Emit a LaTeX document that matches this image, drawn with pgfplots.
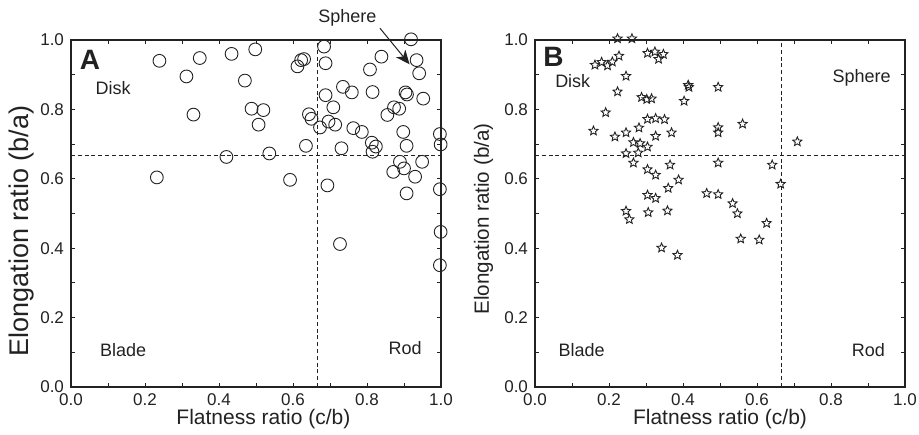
\documentclass[border=0pt]{standalone}
\usepackage{fontspec}
\setmainfont{Liberation Sans}
\usepackage{pgfplots}
\pgfplotsset{compat=1.18}
\usetikzlibrary{arrows.meta,calc}

% open five-point star
\pgfdeclareplotmark{ostar}{%
  \pgfpathmoveto{\pgfpointpolar{90}{\pgfplotmarksize}}%
  \pgfpathlineto{\pgfpointpolar{126}{0.45\pgfplotmarksize}}%
  \pgfpathlineto{\pgfpointpolar{162}{\pgfplotmarksize}}%
  \pgfpathlineto{\pgfpointpolar{198}{0.45\pgfplotmarksize}}%
  \pgfpathlineto{\pgfpointpolar{234}{\pgfplotmarksize}}%
  \pgfpathlineto{\pgfpointpolar{270}{0.45\pgfplotmarksize}}%
  \pgfpathlineto{\pgfpointpolar{306}{\pgfplotmarksize}}%
  \pgfpathlineto{\pgfpointpolar{342}{0.45\pgfplotmarksize}}%
  \pgfpathlineto{\pgfpointpolar{18}{\pgfplotmarksize}}%
  \pgfpathlineto{\pgfpointpolar{54}{0.45\pgfplotmarksize}}%
  \pgfpathclose\pgfusepathqstroke}

\definecolor{ink}{HTML}{222222}

\pgfplotstableread{
x y
0.239 0.940
0.348 0.948
0.434 0.960
0.498 0.973
0.312 0.895
0.470 0.883
0.331 0.785
0.488 0.802
0.520 0.798
0.507 0.756
0.420 0.663
0.232 0.604
0.684 0.981
0.919 1.002
0.839 0.952
0.934 0.942
0.941 0.904
0.630 0.945
0.622 0.942
0.612 0.924
0.688 0.933
0.808 0.915
0.735 0.865
0.759 0.849
0.688 0.841
0.815 0.850
0.904 0.849
0.908 0.843
0.952 0.831
0.709 0.806
0.643 0.786
0.650 0.773
0.673 0.748
0.696 0.765
0.714 0.756
0.763 0.746
0.786 0.735
0.855 0.784
0.873 0.806
0.887 0.802
0.898 0.735
0.907 0.695
0.635 0.695
0.731 0.688
0.813 0.704
0.824 0.693
0.815 0.678
0.536 0.673
0.889 0.649
0.871 0.620
0.900 0.630
0.949 0.649
0.930 0.606
0.592 0.597
0.907 0.558
0.693 0.581
0.727 0.412
0.997 0.729
0.999 0.699
0.997 0.570
0.999 0.447
0.997 0.351
}\dataA

\pgfplotstableread{
x y
0.223 1.004
0.262 1.004
0.162 0.928
0.180 0.936
0.196 0.926
0.209 0.937
0.227 0.954
0.246 0.896
0.223 0.851
0.304 0.962
0.324 0.966
0.334 0.945
0.347 0.959
0.288 0.835
0.302 0.829
0.315 0.831
0.191 0.791
0.158 0.738
0.216 0.721
0.246 0.733
0.281 0.747
0.304 0.772
0.326 0.774
0.350 0.771
0.326 0.723
0.369 0.733
0.403 0.824
0.414 0.870
0.416 0.864
0.266 0.705
0.284 0.702
0.304 0.692
0.246 0.673
0.279 0.675
0.266 0.646
0.304 0.627
0.326 0.611
0.365 0.640
0.388 0.597
0.360 0.573
0.304 0.553
0.326 0.544
0.464 0.558
0.495 0.864
0.495 0.748
0.495 0.733
0.561 0.758
0.709 0.707
0.495 0.646
0.641 0.640
0.664 0.585
0.495 0.555
0.246 0.507
0.255 0.483
0.306 0.503
0.358 0.508
0.342 0.401
0.385 0.380
0.534 0.529
0.547 0.500
0.626 0.472
0.556 0.427
0.606 0.424
}\dataB

\pgfplotsset{
  panel/.style={
    width=185pt, height=173.5pt, scale only axis,
    xmin=0, xmax=1, ymin=0, ymax=1,
    xtick={0,0.2,0.4,0.6,0.8,1}, ytick={0,0.2,0.4,0.6,0.8,1},
    minor tick num=1, tick align=inside,
    xtick pos=both, ytick pos=both,
    major tick length=2.2pt, minor tick length=2.2pt,
    tick style={ink, line width=0.5pt},
    axis line style={ink, line width=0.6pt},
    ticklabel style={font=\fontsize{8.5}{10}\selectfont, text=ink},
    /pgf/number format/fixed, /pgf/number format/fixed zerofill,
    /pgf/number format/precision=1,
    /pgf/number format/assume math mode=true,
    clip=false,
    label style={text=ink},
  },
}
\tikzset{
  quad/.style={ink, dash pattern=on 2pt off 1.4pt, line width=0.45pt},
  note/.style={font=\fontsize{9}{11}\selectfont, text=ink},
}

\begin{document}
\begin{tikzpicture}
\begin{axis}[panel, name=a,
  xlabel={Flatness ratio (c/b)},
  xlabel style={at={(rel axis cs:0.52,-0.092)}, anchor=center, font=\fontsize{10.5}{12}\selectfont},
  ylabel={Elongation ratio (b/a)},
  ylabel style={at={(rel axis cs:-0.133,0.45)}, anchor=center, font=\fontsize{13.5}{15}\selectfont},
]
\addplot[quad] coordinates {(0,0.6667) (1,0.6667)};
\addplot[quad] coordinates {(0.6667,0) (0.6667,1)};
\addplot[only marks, mark=o, mark size=3.2pt, mark options={ink, line width=0.45pt}] table {\dataA};
\node[font=\fontsize{14}{16}\selectfont\bfseries, text=ink] at (axis cs:0.051,0.942) {A};
\node[note] at (axis cs:0.114,0.861) {Disk};
\node[note] at (axis cs:0.141,0.107) {Blade};
\node[note] at (axis cs:0.903,0.111) {Rod};
\node[note] at (axis cs:0.747,1.063) {Sphere};
\draw[ink, line width=0.5pt, -{Stealth[length=7pt, width=6pt, inset=2pt]}] (axis cs:0.835,1.034) -- (axis cs:0.915,0.930);
\end{axis}

\begin{axis}[panel, name=b, at={(232pt,0)},
  xlabel={Flatness ratio (c/b)},
  xlabel style={at={(rel axis cs:0.5,-0.092)}, anchor=center, font=\fontsize{10.5}{12}\selectfont},
  ylabel={Elongation ratio (b/a)},
  ylabel style={at={(rel axis cs:-0.139,0.484)}, anchor=center, font=\fontsize{10.3}{12}\selectfont},
]
\addplot[quad] coordinates {(0,0.6667) (1,0.6667)};
\addplot[quad] coordinates {(0.6667,0) (0.6667,1)};
\addplot[only marks, mark=ostar, mark size=2.4pt, mark options={ink, line width=0.45pt}] table {\dataB};
\node[font=\fontsize{14}{16}\selectfont\bfseries, text=ink] at (axis cs:0.050,0.952) {B};
\node[note] at (axis cs:0.102,0.882) {Disk};
\node[note] at (axis cs:0.126,0.107) {Blade};
\node[note] at (axis cs:0.901,0.107) {Rod};
\node[note] at (axis cs:0.883,0.891) {Sphere};
\end{axis}

\pgfresetboundingbox
\path ($(a.south west)+(-35.5pt,-23.5pt)$) rectangle ($(a.south west)+(424pt,193.5pt)$);
\end{tikzpicture}
\end{document}
